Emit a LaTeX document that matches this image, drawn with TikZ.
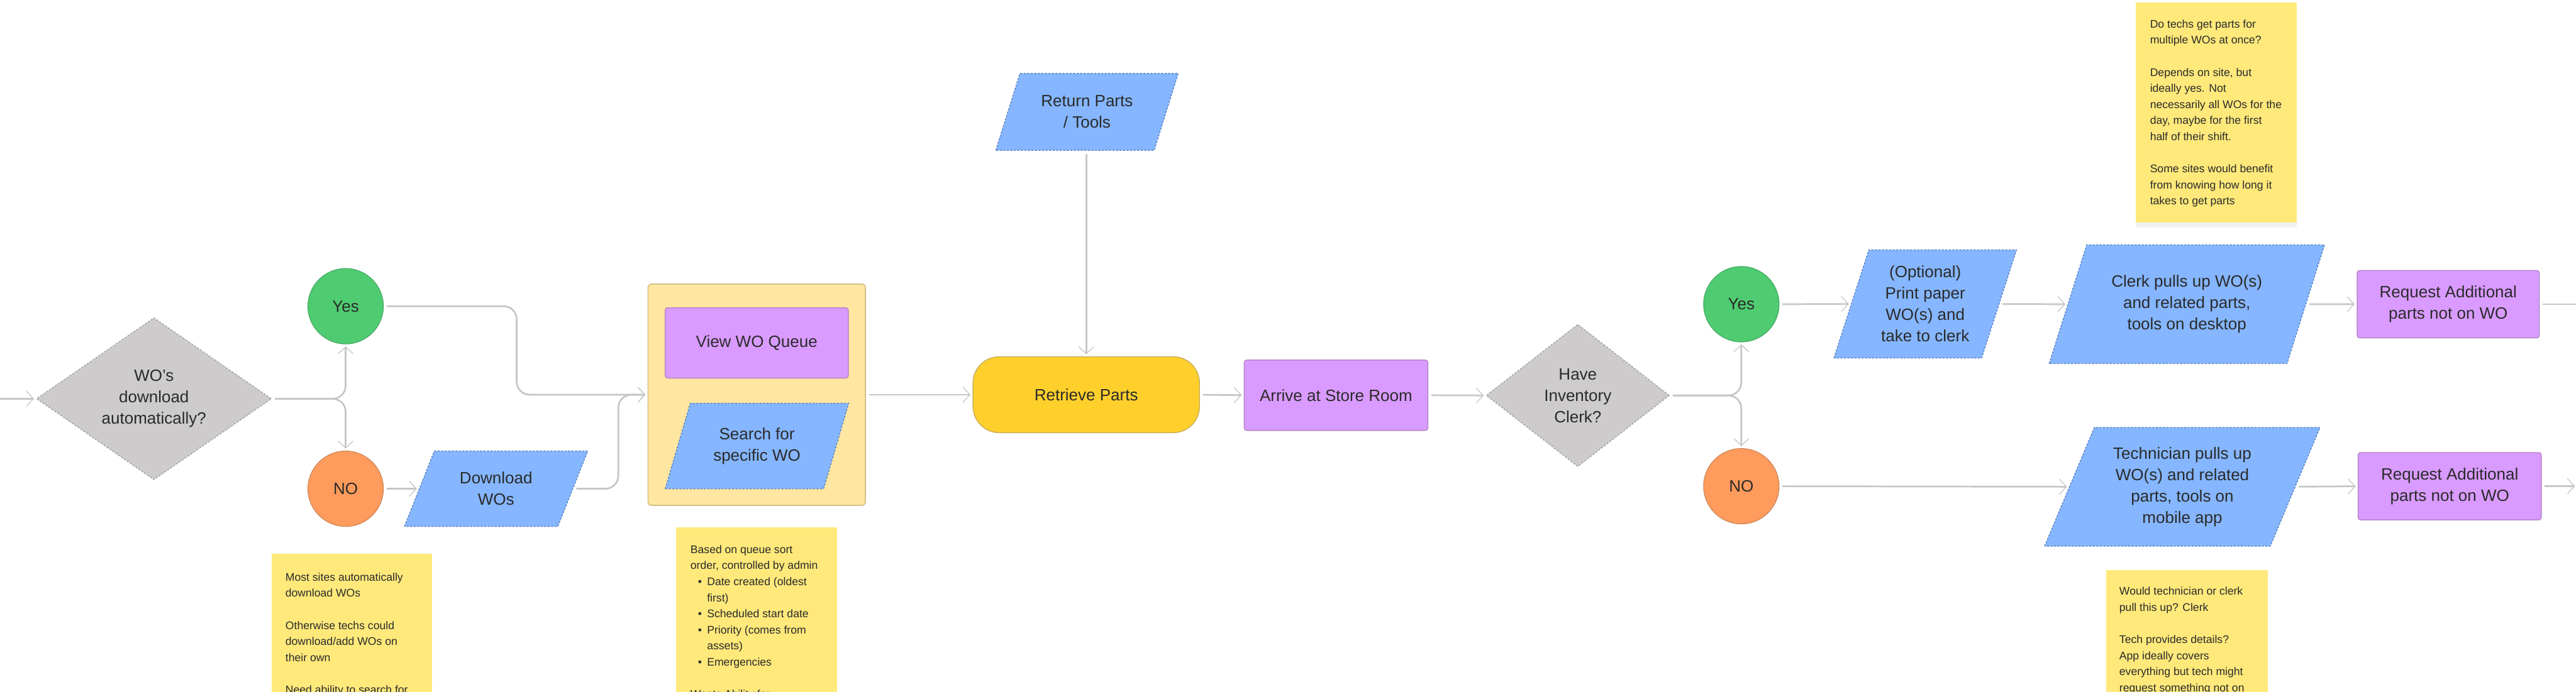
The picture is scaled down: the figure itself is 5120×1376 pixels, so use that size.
\documentclass[tikz,border=0pt]{standalone}
\usepackage{fontspec}
\setmainfont{Liberation Sans}
\usetikzlibrary{arrows.meta,shapes.geometric,shadows}
\definecolor{inkc}{HTML}{2A2A2A}
\definecolor{bluef}{HTML}{85B6FF}
\definecolor{blued}{HTML}{5E86C2}
\definecolor{purpf}{HTML}{D99BFF}
\definecolor{purpd}{HTML}{B585C9}
\definecolor{grayf}{HTML}{CDCBCC}
\definecolor{grayd}{HTML}{A3A1A2}
\definecolor{greenf}{HTML}{4FCB71}
\definecolor{greend}{HTML}{45A862}
\definecolor{orangef}{HTML}{FF9B5C}
\definecolor{oranged}{HTML}{C98458}
\definecolor{termf}{HTML}{FFD02C}
\definecolor{termd}{HTML}{C9AE5A}
\definecolor{groupf}{HTML}{FFE6A1}
\definecolor{groupd}{HTML}{D4BF85}
\definecolor{notef}{HTML}{FFE97B}
\definecolor{linec}{HTML}{C6C6C6}
\tikzset{
  flowtext/.style={text=inkc,font=\fontsize{16.25}{21.25}\selectfont,align=center,inner sep=0pt},
  decision/.style={flowtext,diamond,fill=grayf,draw=grayd,dashed,dash pattern=on 2pt off 1.5pt,line width=.9pt},
  parabox/.style 2 args={flowtext,trapezium,trapezium stretches=true,trapezium left angle=#1,trapezium right angle=#2,fill=bluef,draw=blued,dashed,dash pattern=on 2pt off 1.5pt,line width=.9pt},
  actionbox/.style={flowtext,rectangle,rounded corners=2.5pt,fill=purpf,draw=purpd,line width=.9pt},
  yesdot/.style={flowtext,circle,minimum size=75pt,fill=greenf,draw=greend,line width=.7pt},
  nodot/.style={flowtext,circle,minimum size=75pt,fill=orangef,draw=oranged,line width=.7pt},
  termbox/.style={flowtext,rectangle,rounded corners=26pt,fill=termf,draw=termd,line width=.9pt},
  groupbox/.style={rectangle,rounded corners=3pt,fill=groupf,draw=groupd,line width=1pt,inner sep=0pt},
  notebox/.style={rectangle,anchor=north west,fill=notef,inner sep=0pt,drop shadow={shadow xshift=0pt,shadow yshift=-5pt,opacity=.05,fill=black}},
  notetext/.style={anchor=north west,text=inkc,font=\fontsize{11}{16}\selectfont,align=left,inner sep=0pt},
  conn/.style={draw=linec,line width=1.7pt,rounded corners=13pt,-{Straight Barb[length=7pt,width=15pt,line width=.8pt]},shorten >=2pt,shorten <=3pt},
}
\newcommand{\blt}[1]{\makebox[16.5pt][l]{\hspace{7.5pt}•}#1}
\begin{document}
\begin{tikzpicture}[x=.5pt,y=-.5pt]
\useasboundingbox (0,0) rectangle (5120,1376);
\clip (0,0) rectangle (5120,1376);
\fill[white] (0,0) rectangle (5120,1376);

% sticky notes
\node[notebox,minimum width=159.5pt,minimum height=140pt] (noteA) at (539,1101) {};
\node[notetext] (noteAt) at (567,1139) {Most sites automatically\\download WOs\\[16pt]Otherwise techs could\\download/add WOs on\\their own\\[16pt]Need ability to search for};
\node[notebox,minimum width=160pt,minimum height=170pt] (noteB) at (1343,1048) {};
\node[notetext] (noteBt) at (1372,1084) {Based on queue sort\\order, controlled by admin\\\blt{Date created (oldest}\\\hspace{16.5pt}first)\\\blt{Scheduled start date}\\\blt{Priority (comes from}\\\hspace{16.5pt}assets)\\\blt{Emergencies}\\[16pt]Wants Ability for};
\node[notebox,minimum width=160pt,minimum height=219pt] (noteC) at (4244,4) {};
\node[notetext] (noteCt) at (4273,39) {Do techs get parts for\\multiple WOs at once?\\[16pt]Depends on site, but\\ideally yes. Not\\necessarily all WOs for the\\day, maybe for the first\\half of their shift.\\[16pt]Some sites would benefit\\from knowing how long it\\takes to get parts};
\node[notebox,minimum width=160.5pt,minimum height=130pt] (noteD) at (4186,1133) {};
\node[notetext] (noteDt) at (4212,1167) {Would technician or clerk\\pull this up? Clerk\\[16pt]Tech provides details?\\App ideally covers\\everything but tech might\\request something not on};

% flow shapes
\node[decision,minimum width=233.5pt,minimum height=139pt] (dauto) at (306,793) {WO's\\download\\automatically?};
\node[yesdot] (yesA) at (687,609) {Yes};
\node[nodot] (noA) at (687,972) {NO};
\node[parabox={62.2}{117.8},minimum width=182.5pt,minimum height=75pt] (dlwo) at (986,972) {Download\\WOs};
\node[groupbox,minimum width=216pt,minimum height=220pt] (group) at (1504,785) {};
\node[actionbox,minimum width=182pt,minimum height=70pt] (queue) at (1504,682) {View WO Queue};
\node[parabox={65.9}{114.1},minimum width=182.5pt,minimum height=85pt] (search) at (1504.5,887) {Search for\\specific WO};
\node[parabox={63.3}{116.7},minimum width=181.5pt,minimum height=76.5pt] (retn) at (2160.5,222.5) {Return Parts\\/ Tools};
\node[termbox,minimum width=225pt,minimum height=75.5pt] (retr) at (2159,785) {Retrieve Parts};
\node[actionbox,minimum width=182.5pt,minimum height=70pt] (arrive) at (2655.5,786) {Arrive at Store Room};
\node[decision,minimum width=182pt,minimum height=141.5pt] (dclerk) at (3136,786.5) {Have\\Inventory\\Clerk?};
\node[yesdot] (yesB) at (3461,605) {Yes};
\node[nodot] (noB) at (3461,967) {NO};
\node[parabox={70.3}{109.7},minimum width=181.5pt,minimum height=107.5pt] (print) at (3826.5,604.5) {(Optional)\\Print paper\\WO(s) and\\take to clerk};
\node[parabox={64}{116},minimum width=274.5pt,minimum height=118pt] (clerk) at (4346.5,605) {Clerk pulls up WO(s)\\and related parts,\\tools on desktop};
\node[parabox={63.8}{116.2},minimum width=274.5pt,minimum height=118pt] (tech) at (4337.5,968) {Technician pulls up\\WO(s) and related\\parts, tools on\\mobile app};
\node[actionbox,minimum width=181pt,minimum height=67pt] (reqA) at (4866,605) {Request Additional\\parts not on WO};
\node[actionbox,minimum width=182pt,minimum height=67pt] (reqB) at (4869,967) {Request Additional\\parts not on WO};

% free ends and bends
\coordinate (inL) at (-12,793);
\coordinate (outA) at (5140,605);
\coordinate (outB) at (5122,967);
\coordinate (bendA) at (1027,785);
\coordinate (bendB) at (1229,785);

% connectors
\draw[conn] (inL) -- (dauto.west);
\draw[conn] (dauto.east) -| (yesA.south);
\draw[conn] (dauto.east) -| (noA.north);
\draw[conn] (noA.east) -- (dlwo.west);
\draw[conn] (yesA.east) -- (yesA.east -| bendA) -- (bendA) -- (group.west);
\draw[conn] (dlwo.east) -- (dlwo.east -| bendB) -- (bendB) -- (group.west);
\draw[conn] (group.east) -- (retr.west);
\draw[conn] (retn.south -| retr.north) -- (retr.north);
\draw[conn] (retr.east) -- (arrive.west);
\draw[conn] (arrive.east) -- (dclerk.west);
\draw[conn] (dclerk.east) -| (yesB.south);
\draw[conn] (dclerk.east) -| (noB.north);
\draw[conn] (yesB.east) -- (print.west);
\draw[conn] (print.east) -- (clerk.west);
\draw[conn] (clerk.east) -- (reqA.west);
\draw[conn] (reqA.east) -- (outA);
\draw[conn] (noB.east) -- (tech.west);
\draw[conn] (tech.east) -- (reqB.west);
\draw[conn] (reqB.east) -- (outB);
\end{tikzpicture}
\end{document}
